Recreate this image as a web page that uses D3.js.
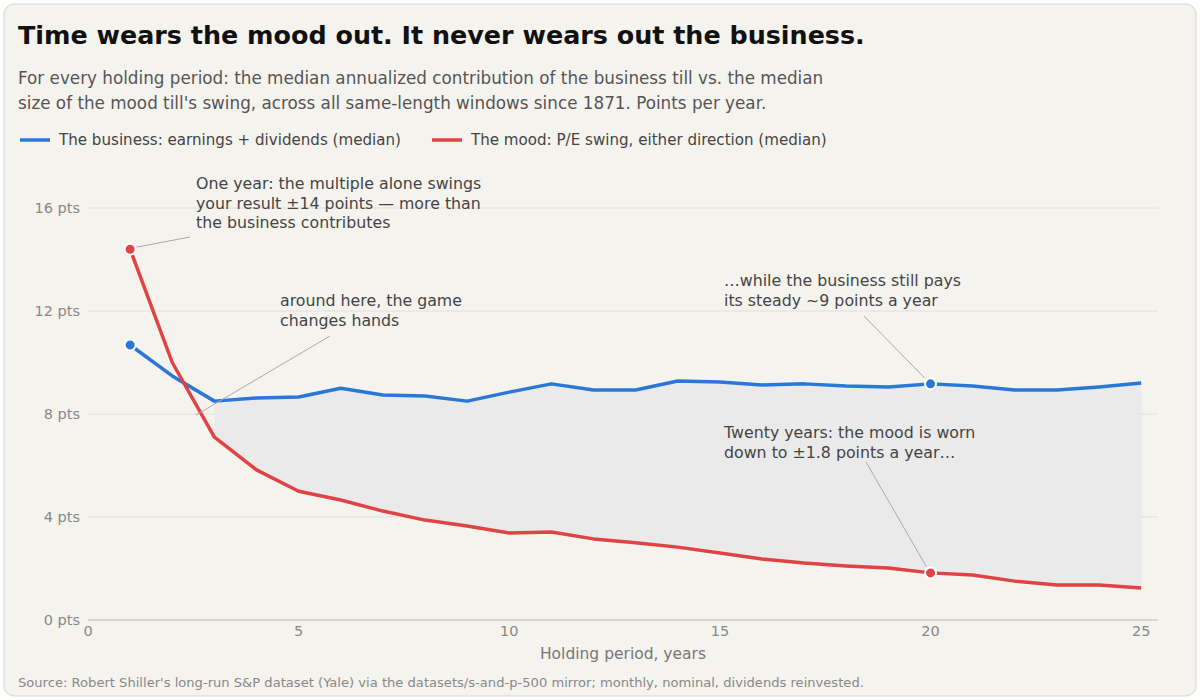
<!DOCTYPE html>
<html><head><meta charset="utf-8">
<script src="https://cdn.jsdelivr.net/npm/d3@7"></script>
<style>
body{margin:0;background:#fff;font-family:"DejaVu Sans",sans-serif;}
</style></head>
<body><div id="chart"></div>
<script>
var svgWidth = 1200, svgHeight = 700;
var svg = d3.select('#chart').append('svg')
    .attr('width', svgWidth).attr('height', svgHeight);

svg.append('rect').attr('x', 4).attr('y', 4).attr('width', 1192).attr('height', 692)
    .attr('rx', 10).attr('fill', '#f5f3ee').attr('stroke', '#d8d6d0');

// medians read per holding period (years 1..25)
var business = [10.68, 9.48, 8.5, 8.62, 8.66, 9.0, 8.74, 8.7, 8.5, 8.85, 9.17, 8.93, 8.93,
    9.28, 9.24, 9.13, 9.17, 9.09, 9.05, 9.17, 9.09, 8.93, 8.93, 9.05, 9.2];
var mood = [14.4, 10.0, 7.1, 5.83, 5.0, 4.66, 4.23, 3.88, 3.65, 3.38, 3.42, 3.15, 3.0,
    2.83, 2.6, 2.37, 2.21, 2.1, 2.02, 1.83, 1.75, 1.51, 1.36, 1.36, 1.24];
var data = business.map((b, i) => ({year: i + 1, business: b, mood: mood[i]}));

var xScale = d3.scaleLinear().domain([0, 25.4]).range([88, 1158]);
var yScale = d3.scaleLinear().domain([0, 16]).range([620, 208]);

svg.append('text').attr('x', 18).attr('y', 44).text('Time wears the mood out. It never wears out the business.')
    .attr('font-size', 25.4).attr('font-weight', 'bold').attr('fill', '#111');
svg.append('text').attr('x', 18).attr('y', 84).attr('font-size', 16.8).attr('fill', '#555')
    .text("For every holding period: the median annualized contribution of the business till vs. the median");
svg.append('text').attr('x', 18).attr('y', 109).attr('font-size', 16.8).attr('fill', '#555')
    .text("size of the mood till's swing, across all same-length windows since 1871. Points per year.");

var legend = [{x: 20, c: '#2a78d6', t: 'The business: earnings + dividends (median)'},
    {x: 432, c: '#e04343', t: 'The mood: P/E swing, either direction (median)'}];
legend.forEach(l => {
    svg.append('line').attr('x1', l.x).attr('x2', l.x + 30).attr('y1', 140).attr('y2', 140)
        .attr('stroke', l.c).attr('stroke-width', 3.5);
    svg.append('text').attr('x', l.x + 39).attr('y', 145).text(l.t).attr('font-size', 15.1).attr('fill', '#444');
});

// grid + y ticks
[0, 4, 8, 12, 16].forEach(v => {
    svg.append('line').attr('x1', 88).attr('x2', 1158).attr('y1', yScale(v)).attr('y2', yScale(v))
        .attr('stroke', v === 0 ? '#bbb' : '#e2e0da');
    svg.append('text').attr('x', 80).attr('y', yScale(v) + 5).attr('text-anchor', 'end')
        .text(v + ' pts').attr('font-size', 14.5).attr('fill', '#888');
});
[0, 5, 10, 15, 20, 25].forEach(v => {
    svg.append('text').attr('x', xScale(v)).attr('y', 636).attr('text-anchor', 'middle')
        .text(v).attr('font-size', 14.5).attr('fill', '#888');
});
svg.append('text').attr('x', 623).attr('y', 659).attr('text-anchor', 'middle')
    .text('Holding period, years').attr('font-size', 15.5).attr('fill', '#777');

// gap area
var gap = data.filter(d => d.year >= 3);
svg.append('path').datum(gap)
    .attr('d', d3.area().x(d => xScale(d.year)).y0(d => yScale(d.mood)).y1(d => yScale(d.business)))
    .attr('fill', '#e9e9ea').attr('opacity', 0.9);

[['business', '#2a78d6'], ['mood', '#e04343']].forEach(s => {
    svg.append('path').datum(data)
        .attr('d', d3.line().x(d => xScale(d.year)).y(d => yScale(d[s[0]])))
        .attr('fill', 'none').attr('stroke', s[1]).attr('stroke-width', 3.5).attr('stroke-linejoin', 'round');
});

// annotations
function note(lines, tx, ty, x1, y1, x2, y2) {
    svg.append('line').attr('x1', x1).attr('y1', y1).attr('x2', x2).attr('y2', y2)
        .attr('stroke', '#aaa').attr('stroke-width', 1);
    lines.forEach((t, i) => svg.append('text').attr('x', tx).attr('y', ty + i * 19.5)
        .text(t).attr('font-size', 15.8).attr('fill', '#444'));
}
note(['One year: the multiple alone swings', 'your result \u00b114 points \u2014 more than', 'the business contributes'],
    196, 189, 190, 237, xScale(1) + 6, yScale(14.4) - 2);
note(['around here, the game', 'changes hands'], 280, 306, 330, 336, 196, 415);
note(['\u2026while the business still pays', 'its steady ~9 points a year'], 724, 286, 864, 316, xScale(20) - 6, yScale(9.17) - 6);
note(['Twenty years: the mood is worn', 'down to \u00b11.8 points a year\u2026'], 724, 438, 866, 462, xScale(20) - 4, yScale(1.83) - 6);

var dots = [{y: 1, v: business[0], c: '#2a78d6'}, {y: 1, v: mood[0], c: '#e04343'},
    {y: 20, v: business[19], c: '#2a78d6'}, {y: 20, v: mood[19], c: '#e04343'}];
svg.selectAll('circle.dot').data(dots).enter().append('circle')
    .attr('cx', d => xScale(d.y)).attr('cy', d => yScale(d.v)).attr('r', 5.5)
    .attr('fill', d => d.c).attr('stroke', '#fff').attr('stroke-width', 2);

svg.append('text').attr('x', 18).attr('y', 687).attr('font-size', 13.1).attr('fill', '#888')
    .text("Source: Robert Shiller's long-run S&P dataset (Yale) via the datasets/s-and-p-500 mirror; monthly, nominal, dividends reinvested.");
</script></body></html>
